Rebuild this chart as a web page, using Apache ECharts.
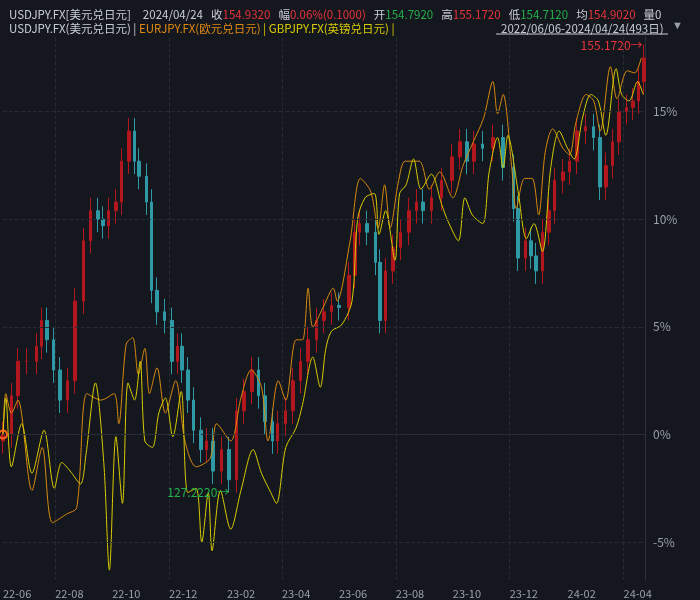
<!DOCTYPE html>
<html>
<head>
<meta charset="UTF-8">
<title>USDJPY</title>
<script src="https://cdn.jsdelivr.net/npm/echarts@6/dist/echarts.min.js"></script>
<style>html,body{margin:0;background:#14171e;}#chart{width:700px;height:600px;}</style>
</head>
<body>
<div id="chart"></div>
<script>
// 天数(自2022-06-06起) 与 涨跌幅(%)
var usdDay = [0,9,16,25,36,41,47,54,61,69,77,86,94,102,107,113,121,127,135,141,146,154,159,165,173,181,187,192,198,204,212,218,225,234,242,250,258,267,274,281,289,294,303,311,319,327,336,344,352,360,371,377,382,390,399,404,410,418,426,435,443,450,459,470,481,490,497,505,514,525,536,547,552,560,566,571,578,585,591,600,607,615,624,633,640,646,653,660,668,675,681,687];
var usdClose = [0,1.8,3.4,3.4,4.1,5.3,4.4,3.0,1.6,2.5,6.2,9.0,10.4,10.0,9.7,10.4,10.8,12.7,14.1,12.7,12.0,10.8,6.7,5.7,5.3,3.4,4.1,3.0,1.6,0.2,-0.7,-0.3,-1.7,-0.7,-2.1,1.1,2.0,3.0,1.8,0.6,-0.3,0.5,1.1,2.5,3.4,4.4,5.3,5.7,6.0,5.9,7.4,9.4,9.8,9.4,8.0,5.3,7.6,8.7,9.4,10.4,10.8,10.4,11.0,11.8,12.9,13.6,12.7,13.5,13.3,13.8,12.4,10.5,8.2,9.0,8.3,7.6,9.4,10.4,11.8,12.2,12.7,14.1,14.3,13.8,11.5,12.5,13.6,15.0,15.2,15.5,16.4,17.5];
var eurDay = [0,3,9,16,31,42,53,68,79,90,105,119,124,132,139,145,152,157,165,174,185,195,207,222,229,244,255,266,277,284,295,303,314,321,327,332,343,354,358,372,383,394,402,409,415,424,431,446,457,468,482,493,504,515,525,530,536,545,550,559,567,574,581,589,600,607,614,625,633,640,651,658,669,677,684];
var eurVal = [0,1.9,1.0,1.6,-2.6,-0.6,-4.1,-3.7,-3.4,1.9,1.6,1.9,0.5,4.2,4.5,2.8,4.0,1.9,3.1,1.0,2.5,-0.3,-1.5,-1.1,0.5,-0.3,1.7,3.0,2.2,-0.3,2.5,1.6,4.4,4.4,6.8,5.0,5.9,6.8,6.2,9.0,11.9,11.3,9.6,11.6,9.6,11.8,12.7,12.7,11.4,12.2,11.0,12.5,13.6,14.7,16.4,14.9,15.8,12.5,10.5,11.9,11.9,10.2,13.1,14.2,13.3,13.0,14.5,15.8,15.5,14.1,17.1,15.6,16.9,16.8,17.5];
var gbpDay = [0,3,9,20,31,44,55,63,72,83,89,99,108,114,121,128,134,141,147,152,160,167,174,182,191,198,207,213,220,224,233,244,255,268,277,287,293,303,314,321,332,340,346,352,363,374,380,388,398,403,410,420,425,432,440,448,459,470,477,488,495,503,514,521,530,536,541,552,561,569,578,587,596,605,612,621,630,638,646,657,663,671,680,686];
var gbpVal = [0,1.7,-1.5,0.5,-1.8,0.2,-2.5,-1.3,-1.7,-2.3,-0.9,2.4,-1.3,-6.3,-0.1,-3.2,2.4,1.6,3.4,-0.3,-0.6,1.0,1.7,-0.1,2.0,-2.7,-2.5,-5.0,-2.7,-5.4,-2.6,-4.4,-2.6,-0.7,-1.8,-2.7,-3.2,-0.6,0.3,1.4,3.6,2.2,4.0,4.8,5.1,6.2,10.0,11.0,11.2,9.3,10.4,8.1,11.2,11.6,12.8,11.4,12.1,10.7,9.9,9.0,11.0,10.2,9.8,12.2,13.8,12.4,13.9,11.3,9.1,9.8,8.5,12.4,14.1,13.3,12.8,14.7,15.8,15.5,13.9,17.0,15.8,15.5,16.4,15.8];
var yTicks = [-5, 0, 5, 10, 15];

var start = new Date(2022, 5, 6);
var days = [];
for (var i = 0; i <= 688; i++) {
    var d = new Date(start.getTime() + i * 86400000);
    days.push(d.getFullYear() + '-' + (d.getMonth() + 1) + '-' + d.getDate());
}
function pad(n){ return n < 10 ? '0' + n : '' + n; }

var candles = [];
var lowIdx = 0, highIdx = 0;
for (var k = 0; k < usdClose.length; k++) {
    var o = k === 0 ? -0.3 : usdClose[k - 1];
    var c = usdClose[k];
    var lo = Math.min(o, c) - 0.6, hi = Math.max(o, c) + 0.6;
    candles.push([usdDay[k], o, c, lo, hi]);
    if (lo < candles[lowIdx][3]) lowIdx = k;
    if (hi > candles[highIdx][4]) highIdx = k;
}
function pairs(xs, ys){ return xs.map(function(x, i){ return [x, ys[i]]; }); }

var chart = echarts.init(document.getElementById('chart'));
var gray = '#c8ccd4', red = '#e8333a', green = '#22b14c';
var fs = { fontSize: 11.5, fontWeight: 'normal' };
function st(color){ return Object.assign({ color: color }, fs); }
chart.setOption({
    backgroundColor: '#14171e',
    animation: false,
    textStyle: { fontFamily: 'Noto Sans CJK SC' },
    title: [{
        left: 4, top: 1,
        text: '{g|USDJPY.FX[美元兑日元]}   {g|2024/04/24}  {g|收}{r|154.9320}  {g|幅}{r|0.06%(0.1000)}  {g|开}{gr|154.7920}  {g|高}{r|155.1720}  {g|低}{gr|154.7120}  {g|均}{r|154.9020}  {g|量0}',
        textStyle: { fontWeight: 'normal', rich: { g: st(gray), r: st(red), gr: st(green) } }
    }, {
        left: 4, top: 18,
        text: '{g|USDJPY.FX(美元兑日元) | }{o|EURJPY.FX(欧元兑日元)}{y| | GBPJPY.FX(英镑兑日元) |}',
        textStyle: { fontWeight: 'normal', rich: { g: st(gray), o: st('#e08a10'), y: st('#d8cc00') } }
    }, {
        left: 496, top: 18,
        text: '2022/06/06-2024/04/24(493日)',
        textStyle: { color: gray, fontSize: 11.5, fontWeight: 'normal' }
    }],
    graphic: [{ type: 'line', shape: { x1: 496, y1: 34, x2: 668, y2: 34 }, style: { stroke: gray, lineWidth: 1 } },
              { type: 'text', left: 672, top: 20, style: { text: '▼', fill: '#9aa0a8', fontSize: 11 } }],
    grid: { left: 0, right: 55, top: 37, bottom: 20 },
    xAxis: {
        type: 'category', data: days, boundaryGap: false,
        axisLine: { lineStyle: { color: '#2c3038' } },
        axisTick: { show: false },
        axisLabel: {
            color: '#9aa0a8', fontSize: 11, align: 'left', showMinLabel: true,
            interval: function(i, v){ var p = v.split('-'); return i === 0 || (p[2] === '1' && (+p[1]) % 2 === 0); },
            formatter: function(v){ var p = v.split('-'); return p[0].slice(2) + '-' + pad(+p[1]); }
        },
        splitLine: {
            show: true, lineStyle: { color: '#262a32', type: 'dashed' },
            interval: function(i, v){ var p = v.split('-'); return p[2] === '1' && (+p[1]) % 4 === 0; }
        }
    },
    yAxis: {
        type: 'value', position: 'right', min: -6.76, max: 18.47,
        axisLine: { show: true, lineStyle: { color: '#2c3038' } },
        axisTick: { show: false }, splitLine: { show: false },
        axisLabel: { color: '#9aa0a8', fontSize: 12, customValues: yTicks, formatter: '{value}%' }
    },
    series: [{
        type: 'candlestick', data: candles, barWidth: 3,
        encode: { x: 0, y: [1, 2, 3, 4] },
        itemStyle: { color: '#b3161c', color0: '#2f9aa5', borderColor: '#b3161c', borderColor0: '#2f9aa5' },
        markLine: {
            silent: true, symbol: 'none', label: { show: false },
            lineStyle: { color: '#262a32', type: 'dashed', width: 1 },
            data: yTicks.map(function(t){ return { yAxis: t }; })
        },
        markPoint: {
            symbol: 'circle', symbolSize: 1,
            data: [
                { coord: [candles[highIdx][0], candles[highIdx][4]], label: { show: true, formatter: '155.1720→', color: red, fontSize: 12, position: 'left', offset: [4, 0] } },
                { coord: [candles[lowIdx][0], candles[lowIdx][3]], label: { show: true, formatter: '127.2220→', color: green, fontSize: 12, position: 'left', offset: [6, 0] } }
            ]
        }
    }, {
        type: 'line', data: pairs(eurDay, eurVal), smooth: 0.3, showSymbol: false,
        lineStyle: { color: '#d88a0e', width: 1 }
    }, {
        type: 'line', data: pairs(gbpDay, gbpVal), smooth: 0.3, showSymbol: false,
        lineStyle: { color: '#d8cc00', width: 1 },
        markPoint: { symbol: 'circle', symbolSize: 8, itemStyle: { color: 'transparent', borderColor: '#ff6a1a', borderWidth: 2 }, data: [{ coord: [0, 0] }] }
    }]
});
</script>
</body>
</html>
